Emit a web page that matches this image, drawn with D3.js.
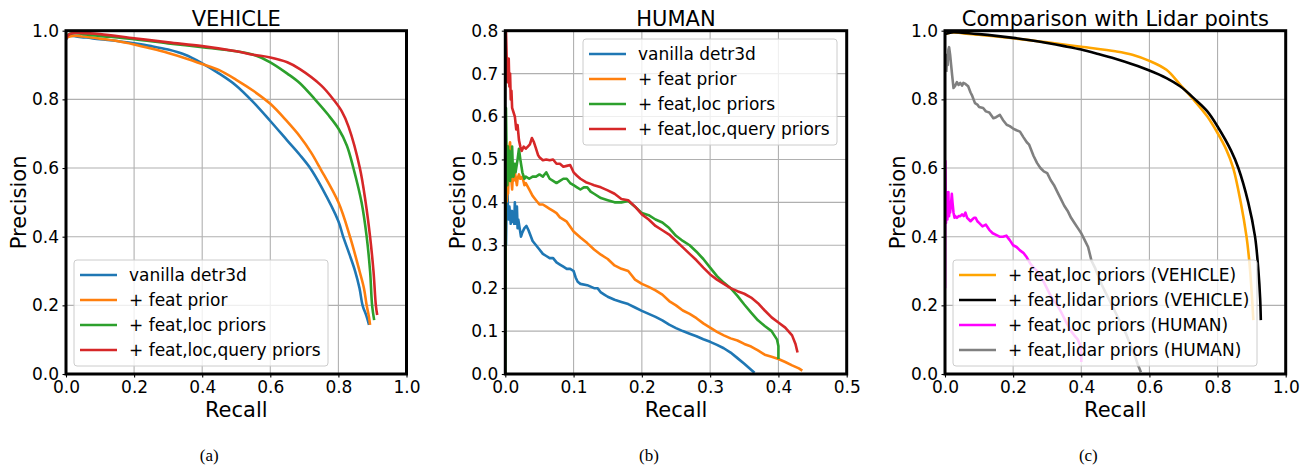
<!DOCTYPE html>
<html>
<head>
<meta charset="utf-8">
<script src="https://cdn.jsdelivr.net/npm/d3@7"></script>
<style>
body { margin: 0; background: #fff; }
svg text { font-family: "DejaVu Sans", sans-serif; fill: #000; }
svg text.caption { font-family: "Liberation Serif", "Times New Roman", serif; }
</style>
</head>
<body>
<script>
// precision / recall points, [recall, precision]
var vehVanilla = [[0,0.975],[0.01,0.985],[0.03,0.983],[0.06,0.98],[0.1,0.975],[0.15,0.97],[0.2,0.963],[0.25,0.955],[0.3,0.945],[0.35,0.93],[0.4,0.905],[0.45,0.875],[0.5,0.84],[0.55,0.792],[0.6,0.737],[0.65,0.68],[0.687,0.638],[0.717,0.6],[0.75,0.545],[0.8,0.445],[0.814,0.4],[0.832,0.35],[0.849,0.3],[0.862,0.25],[0.871,0.2],[0.882,0.17],[0.89,0.143]];
var vehFeat = [[0,0.98],[0.02,0.985],[0.05,0.983],[0.1,0.977],[0.15,0.97],[0.2,0.96],[0.25,0.948],[0.3,0.935],[0.35,0.92],[0.4,0.903],[0.45,0.885],[0.5,0.857],[0.55,0.825],[0.6,0.787],[0.65,0.735],[0.687,0.692],[0.72,0.645],[0.746,0.6],[0.8,0.5],[0.834,0.4],[0.862,0.3],[0.875,0.25],[0.883,0.2],[0.89,0.165],[0.893,0.143]];
var vehFeatLoc = [[0,0.985],[0.02,0.993],[0.05,0.99],[0.1,0.985],[0.2,0.975],[0.3,0.963],[0.4,0.952],[0.5,0.94],[0.55,0.93],[0.6,0.908],[0.65,0.875],[0.687,0.847],[0.731,0.8],[0.77,0.755],[0.8,0.715],[0.825,0.665],[0.844,0.6],[0.868,0.5],[0.883,0.4],[0.893,0.3],[0.899,0.2],[0.905,0.157]];
var vehFeatLocQuery = [[0,0.975],[0.01,0.99],[0.05,0.993],[0.1,0.99],[0.2,0.978],[0.3,0.966],[0.4,0.955],[0.5,0.94],[0.55,0.93],[0.6,0.922],[0.65,0.908],[0.687,0.888],[0.75,0.84],[0.785,0.8],[0.81,0.765],[0.83,0.72],[0.863,0.6],[0.88,0.5],[0.893,0.4],[0.903,0.3],[0.91,0.2],[0.914,0.172]];

var humVanilla = [[0.001,0.3],[0.002,0.41],[0.003,0.435],[0.004,0.38],[0.005,0.36],[0.006,0.39],[0.007,0.37],[0.008,0.35],[0.009,0.37],[0.01,0.38],[0.011,0.355],[0.012,0.37],[0.013,0.35],[0.014,0.4],[0.015,0.35],[0.016,0.37],[0.017,0.39],[0.018,0.34],[0.019,0.36],[0.021,0.34],[0.023,0.32],[0.025,0.33],[0.028,0.34],[0.031,0.345],[0.034,0.335],[0.04,0.31],[0.045,0.3],[0.05,0.29],[0.055,0.28],[0.06,0.275],[0.065,0.27],[0.07,0.27],[0.075,0.26],[0.08,0.255],[0.085,0.25],[0.09,0.245],[0.095,0.245],[0.1,0.24],[0.103,0.225],[0.106,0.215],[0.11,0.21],[0.12,0.207],[0.13,0.2],[0.135,0.2],[0.14,0.19],[0.145,0.185],[0.15,0.18],[0.16,0.173],[0.17,0.168],[0.18,0.163],[0.19,0.155],[0.2,0.147],[0.21,0.14],[0.22,0.133],[0.23,0.125],[0.24,0.115],[0.25,0.107],[0.26,0.1],[0.27,0.094],[0.28,0.088],[0.29,0.081],[0.3,0.075],[0.31,0.068],[0.32,0.06],[0.33,0.05],[0.34,0.037],[0.35,0.024],[0.36,0.01],[0.365,0.003]];
var humFeat = [[0.002,0.4],[0.003,0.43],[0.004,0.42],[0.005,0.47],[0.006,0.53],[0.007,0.54],[0.008,0.5],[0.009,0.45],[0.01,0.43],[0.011,0.46],[0.012,0.45],[0.014,0.47],[0.015,0.46],[0.017,0.44],[0.018,0.455],[0.02,0.465],[0.022,0.455],[0.025,0.46],[0.028,0.44],[0.03,0.445],[0.035,0.43],[0.04,0.415],[0.045,0.405],[0.05,0.395],[0.055,0.395],[0.06,0.39],[0.065,0.385],[0.07,0.38],[0.075,0.375],[0.08,0.365],[0.09,0.355],[0.1,0.332],[0.11,0.318],[0.12,0.305],[0.13,0.29],[0.14,0.278],[0.15,0.268],[0.16,0.253],[0.17,0.245],[0.18,0.24],[0.185,0.23],[0.19,0.22],[0.2,0.21],[0.21,0.203],[0.22,0.195],[0.23,0.185],[0.24,0.17],[0.25,0.16],[0.26,0.148],[0.27,0.14],[0.28,0.13],[0.29,0.118],[0.3,0.108],[0.31,0.098],[0.32,0.09],[0.33,0.083],[0.34,0.078],[0.35,0.07],[0.36,0.064],[0.37,0.055],[0.38,0.045],[0.39,0.04],[0.4,0.035],[0.41,0.028],[0.42,0.02],[0.43,0.013],[0.435,0.008]];
var humFeatLoc = [[0,0],[0.001,0.62],[0.002,0.5],[0.003,0.44],[0.004,0.53],[0.005,0.48],[0.006,0.52],[0.007,0.45],[0.008,0.5],[0.009,0.46],[0.01,0.53],[0.011,0.48],[0.012,0.46],[0.014,0.49],[0.015,0.47],[0.018,0.5],[0.02,0.525],[0.022,0.5],[0.025,0.47],[0.028,0.455],[0.03,0.46],[0.035,0.455],[0.04,0.46],[0.045,0.46],[0.05,0.465],[0.055,0.46],[0.06,0.47],[0.065,0.455],[0.07,0.45],[0.075,0.445],[0.08,0.45],[0.085,0.455],[0.09,0.455],[0.095,0.445],[0.1,0.44],[0.105,0.435],[0.11,0.43],[0.115,0.435],[0.12,0.435],[0.125,0.425],[0.13,0.42],[0.14,0.41],[0.15,0.405],[0.16,0.4],[0.17,0.4],[0.18,0.403],[0.19,0.39],[0.2,0.375],[0.21,0.37],[0.22,0.36],[0.23,0.353],[0.24,0.34],[0.25,0.322],[0.26,0.31],[0.27,0.3],[0.28,0.285],[0.29,0.268],[0.3,0.248],[0.31,0.228],[0.32,0.213],[0.33,0.2],[0.34,0.182],[0.35,0.162],[0.36,0.143],[0.37,0.125],[0.38,0.112],[0.39,0.1],[0.398,0.08],[0.4,0.065],[0.4,0.035]];
var humFeatLocQuery = [[0.001,0.8],[0.002,0.74],[0.003,0.68],[0.004,0.72],[0.005,0.735],[0.006,0.67],[0.007,0.7],[0.008,0.64],[0.009,0.66],[0.01,0.62],[0.012,0.61],[0.014,0.6],[0.016,0.57],[0.018,0.58],[0.02,0.545],[0.022,0.53],[0.024,0.52],[0.027,0.53],[0.03,0.525],[0.033,0.53],[0.036,0.535],[0.039,0.55],[0.042,0.54],[0.045,0.525],[0.048,0.51],[0.05,0.505],[0.055,0.498],[0.06,0.5],[0.065,0.498],[0.07,0.5],[0.075,0.49],[0.08,0.49],[0.085,0.483],[0.09,0.485],[0.095,0.487],[0.1,0.47],[0.105,0.462],[0.11,0.455],[0.118,0.447],[0.125,0.443],[0.13,0.44],[0.14,0.435],[0.15,0.428],[0.16,0.42],[0.17,0.408],[0.18,0.405],[0.19,0.39],[0.2,0.372],[0.21,0.36],[0.22,0.345],[0.23,0.335],[0.24,0.325],[0.25,0.31],[0.26,0.295],[0.27,0.28],[0.28,0.265],[0.29,0.248],[0.3,0.232],[0.31,0.22],[0.32,0.21],[0.33,0.2],[0.34,0.193],[0.35,0.187],[0.36,0.178],[0.37,0.165],[0.38,0.148],[0.39,0.132],[0.4,0.12],[0.41,0.108],[0.42,0.09],[0.425,0.07],[0.428,0.05]];

var lidarVehicle = [[0,0.99],[0.02,0.995],[0.05,0.994],[0.1,0.99],[0.15,0.985],[0.2,0.979],[0.25,0.972],[0.3,0.964],[0.35,0.955],[0.4,0.945],[0.45,0.932],[0.5,0.918],[0.55,0.902],[0.6,0.884],[0.65,0.862],[0.69,0.838],[0.734,0.8],[0.77,0.765],[0.8,0.721],[0.84,0.65],[0.861,0.6],[0.89,0.5],[0.91,0.4],[0.92,0.3],[0.925,0.22],[0.927,0.157]];
var locVehicle = [[0,0.99],[0.02,0.995],[0.05,0.993],[0.1,0.988],[0.2,0.978],[0.3,0.966],[0.4,0.953],[0.5,0.94],[0.55,0.93],[0.6,0.912],[0.65,0.886],[0.69,0.843],[0.729,0.8],[0.77,0.75],[0.8,0.702],[0.825,0.655],[0.846,0.6],[0.868,0.5],[0.885,0.4],[0.893,0.33],[0.9,0.24],[0.905,0.157]];
var locHuman = [[0,0.25],[0.001,0.62],[0.002,0.5],[0.003,0.44],[0.004,0.53],[0.005,0.48],[0.006,0.52],[0.007,0.45],[0.008,0.5],[0.009,0.46],[0.01,0.53],[0.011,0.48],[0.012,0.46],[0.014,0.49],[0.015,0.47],[0.018,0.5],[0.02,0.525],[0.022,0.5],[0.025,0.47],[0.028,0.455],[0.03,0.46],[0.035,0.455],[0.04,0.46],[0.045,0.46],[0.05,0.465],[0.055,0.46],[0.06,0.47],[0.065,0.455],[0.07,0.45],[0.075,0.445],[0.08,0.45],[0.085,0.455],[0.09,0.455],[0.095,0.445],[0.1,0.44],[0.11,0.43],[0.12,0.435],[0.13,0.42],[0.14,0.41],[0.15,0.405],[0.16,0.4],[0.17,0.4],[0.18,0.403],[0.19,0.39],[0.2,0.375],[0.21,0.37],[0.22,0.36],[0.23,0.353],[0.24,0.34],[0.25,0.322],[0.26,0.31],[0.27,0.3],[0.28,0.285],[0.29,0.268],[0.3,0.248],[0.31,0.228],[0.32,0.213],[0.33,0.2],[0.34,0.182],[0.35,0.162],[0.36,0.143],[0.37,0.125],[0.38,0.112],[0.39,0.1],[0.398,0.08],[0.4,0.065],[0.4,0.035]];
var lidarHuman = [[0.004,0.88],[0.006,0.93],[0.008,0.9],[0.01,0.945],[0.012,0.952],[0.015,0.93],[0.018,0.9],[0.021,0.87],[0.025,0.833],[0.03,0.84],[0.035,0.85],[0.04,0.842],[0.045,0.848],[0.05,0.84],[0.054,0.848],[0.06,0.845],[0.068,0.838],[0.075,0.82],[0.08,0.81],[0.088,0.789],[0.095,0.785],[0.1,0.778],[0.112,0.775],[0.12,0.765],[0.13,0.762],[0.142,0.745],[0.15,0.748],[0.161,0.755],[0.17,0.74],[0.181,0.726],[0.19,0.722],[0.2,0.715],[0.21,0.71],[0.22,0.706],[0.23,0.69],[0.24,0.675],[0.247,0.668],[0.26,0.635],[0.27,0.615],[0.28,0.6],[0.29,0.59],[0.3,0.585],[0.31,0.565],[0.32,0.55],[0.33,0.53],[0.34,0.51],[0.35,0.49],[0.36,0.475],[0.37,0.455],[0.38,0.44],[0.39,0.425],[0.4,0.41],[0.41,0.39],[0.42,0.37],[0.43,0.33],[0.44,0.31],[0.46,0.26],[0.48,0.22],[0.5,0.18],[0.515,0.15],[0.53,0.12],[0.54,0.095],[0.55,0.07],[0.56,0.045],[0.565,0.03],[0.575,0.005]];

var ticksUnit = [0, 0.2, 0.4, 0.6, 0.8, 1.0];
var ticksHumanX = [0, 0.1, 0.2, 0.3, 0.4, 0.5];
var ticksHumanY = [0, 0.1, 0.2, 0.3, 0.4, 0.5, 0.6, 0.7, 0.8];

var mainLabels = ["vanilla detr3d", "+ feat prior", "+ feat,loc priors", "+ feat,loc,query priors"];
var mainColors = ["#1f77b4", "#ff7f0e", "#2ca02c", "#d62728"];
var lidarLabels = ["+ feat,loc priors (VEHICLE)", "+ feat,lidar priors (VEHICLE)", "+ feat,loc priors (HUMAN)", "+ feat,lidar priors (HUMAN)"];
var lidarColors = ["#ffa500", "#000000", "#ff00ff", "#808080"];

var smooth = d3.curveCatmullRom.alpha(0.5);

var panels = [
	{id: "a", title: "VEHICLE", caption: "(a)", left: 66, right: 406.5,
		xDomain: [0, 1], yDomain: [0, 1], xTicks: ticksUnit, yTicks: ticksUnit,
		series: [vehVanilla, vehFeat, vehFeatLoc, vehFeatLocQuery], labels: mainLabels, colors: mainColors,
		curves: [smooth, smooth, smooth, smooth],
		legend: {x: 74, y: 260, w: 254}},
	{id: "b", title: "HUMAN", caption: "(b)", left: 505.3, right: 846.7,
		xDomain: [0, 0.5], yDomain: [0, 0.8], xTicks: ticksHumanX, yTicks: ticksHumanY,
		series: [humVanilla, humFeat, humFeatLoc, humFeatLocQuery], labels: mainLabels, colors: mainColors,
		curves: [d3.curveLinear, d3.curveLinear, d3.curveLinear, d3.curveLinear],
		legend: {x: 583, y: 39, w: 254}},
	{id: "c", title: "Comparison with Lidar points", caption: "(c)", left: 945, right: 1285.7,
		xDomain: [0, 1], yDomain: [0, 1], xTicks: ticksUnit, yTicks: ticksUnit,
		series: [locVehicle, lidarVehicle, locHuman, lidarHuman], labels: lidarLabels, colors: lidarColors,
		curves: [smooth, smooth, d3.curveLinear, d3.curveLinear],
		legend: {x: 953, y: 260, w: 304}}
];

var plotTop = 30.7, plotBottom = 374;

var svg = d3.select("body").append("svg")
	.attr("width", 1304)
	.attr("height", 466);

function drawPanel(p) {
	var x = d3.scaleLinear().domain(p.xDomain).range([p.left, p.right]),
		y = d3.scaleLinear().domain(p.yDomain).range([plotBottom, plotTop]),
		fmt = d3.format(".1f"),
		g = svg.append("g").attr("class", "panel-" + p.id),
		mid = (p.left + p.right) / 2;

	g.append("clipPath")
		.attr("id", "clip-" + p.id)
		.append("rect")
		.attr("x", p.left)
		.attr("y", plotTop)
		.attr("width", p.right - p.left)
		.attr("height", plotBottom - plotTop);

	// grid
	g.selectAll("line.gx").data(p.xTicks).enter().append("line")
		.attr("x1", function(d) {return x(d);})
		.attr("x2", function(d) {return x(d);})
		.attr("y1", plotTop).attr("y2", plotBottom)
		.style("stroke", "#b0b0b0").style("stroke-width", 1.1);
	g.selectAll("line.gy").data(p.yTicks).enter().append("line")
		.attr("y1", function(d) {return y(d);})
		.attr("y2", function(d) {return y(d);})
		.attr("x1", p.left).attr("x2", p.right)
		.style("stroke", "#b0b0b0").style("stroke-width", 1.1);

	// curves
	g.append("g")
		.attr("clip-path", "url(#clip-" + p.id + ")")
		.selectAll("path").data(p.series).enter().append("path")
		.attr("d", function(d, i) {
			return d3.line()
				.x(function(pt) {return x(pt[0]);})
				.y(function(pt) {return y(pt[1]);})
				.curve(p.curves[i])(d);
		})
		.style("fill", "none")
		.style("stroke", function(d, i) {return p.colors[i];})
		.style("stroke-width", 2.6)
		.style("stroke-linejoin", "round");

	// axes
	var xAxis = g.append("g")
		.attr("transform", "translate(0," + plotBottom + ")")
		.call(d3.axisBottom(x).tickValues(p.xTicks).tickFormat(fmt).tickSize(3.5).tickPadding(3.6));
	var yAxis = g.append("g")
		.attr("transform", "translate(" + p.left + ",0)")
		.call(d3.axisLeft(y).tickValues(p.yTicks).tickFormat(fmt).tickSize(3.5).tickPadding(3.5));
	[xAxis, yAxis].forEach(function(a) {
		a.select(".domain").remove();
		a.selectAll("line").style("stroke", "#000").style("stroke-width", 1.1);
		a.selectAll("text")
			.style("font-family", "DejaVu Sans, sans-serif")
			.style("font-size", "17px")
			.style("fill", "#000");
	});

	// frame
	g.append("rect")
		.attr("x", p.left).attr("y", plotTop)
		.attr("width", p.right - p.left).attr("height", plotBottom - plotTop)
		.style("fill", "none").style("stroke", "#000").style("stroke-width", 3);

	// texts
	g.append("text")
		.attr("x", mid).attr("y", 26)
		.attr("text-anchor", "middle")
		.style("font-size", "21px")
		.text(p.title);
	g.append("text")
		.attr("x", mid).attr("y", 417)
		.attr("text-anchor", "middle")
		.style("font-size", "21px")
		.text("Recall");
	g.append("text")
		.attr("transform", "translate(" + (p.left - 40) + "," + ((plotTop + plotBottom) / 2) + ") rotate(-90)")
		.attr("text-anchor", "middle")
		.style("font-size", "21px")
		.text("Precision");
	g.append("text")
		.attr("class", "caption")
		.attr("x", mid - 27).attr("y", 461)
		.attr("text-anchor", "middle")
		.style("font-size", "17px")
		.text(p.caption);

	// legend
	var lg = g.append("g").attr("transform", "translate(" + p.legend.x + "," + p.legend.y + ")");
	lg.append("rect")
		.attr("width", p.legend.w).attr("height", 106)
		.attr("rx", 3)
		.style("fill", "#fff").style("fill-opacity", 0.8)
		.style("stroke", "#cccccc").style("stroke-width", 1);
	var rows = lg.selectAll("g.entry").data(p.labels).enter().append("g")
		.attr("transform", function(d, i) {return "translate(0," + (15 + 25 * i) + ")";});
	rows.append("line")
		.attr("x1", 6).attr("x2", 43)
		.style("stroke", function(d, i) {return p.colors[i];})
		.style("stroke-width", 2.6);
	rows.append("text")
		.attr("x", 55).attr("dy", "0.35em")
		.style("font-size", "17px")
		.text(function(d) {return d;});
}

panels.forEach(drawPanel);
</script>
</body>
</html>
